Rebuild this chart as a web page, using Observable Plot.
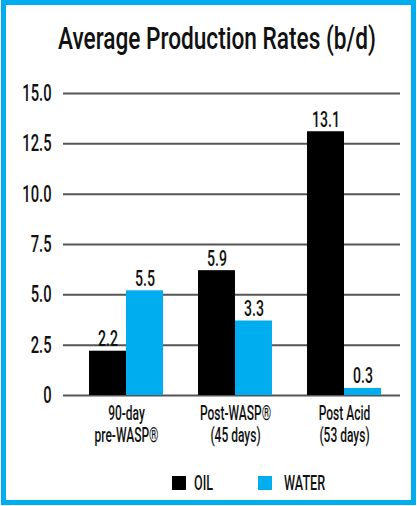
<!DOCTYPE html>
<html>
<head>
<meta charset="utf-8">
<script src="https://cdn.jsdelivr.net/npm/d3@7"></script>
<script src="https://cdn.jsdelivr.net/npm/@observablehq/plot@0.6"></script>
<style>
  html, body { margin: 0; padding: 0; background: #fff; }
  #frame {
    position: absolute; left: 1px; top: 0; width: 415px; height: 505px;
    box-sizing: border-box; border: 5px solid #00AEEF; background: #fff;
    font-family: Roboto, "DejaVu Sans", sans-serif; color: #111; font-weight: 500;
  }
  #title {
    height: 55px; box-sizing: border-box; padding-top: 18px; padding-left: 52px;
    font-size: 31px; line-height: 31px; white-space: nowrap;
  }
  #title span { display: inline-block; transform: scaleX(0.73); transform-origin: 0 50%; }
  #chart svg { display: block; font-weight: 500; }
  #legend {
    display: flex; align-items: center; padding-top: 17px; padding-left: 166px;
    font-size: 21px; line-height: 21px;
  }
  .item { display: flex; align-items: center; white-space: nowrap; }
  .item span { display: inline-block; transform: scaleX(0.6); transform-origin: 0 50%; position: relative; top: 1px; }
  .sw { width: 14px; height: 14px; flex: none; }
</style>
</head>
<body>
<div id="frame">
  <div id="title"><span>Average Production Rates (b/d)</span></div>
  <div id="chart"></div>
  <div id="legend"></div>
</div>
<script>
// ---- data ----
const groups = ["90-day pre-WASP®", "Post-WASP® (45 days)", "Post Acid (53 days)"];
const groupLabels = ["90-day\npre-WASP®", "Post-WASP®\n(45 days)", "Post Acid\n(53 days)"];
const seriesNames = ["OIL", "WATER"];
const seriesColors = ["#000000", "#00AEEF"];
// bar heights as drawn in the picture
const oilValues = [2.2, 6.2, 13.1];
const waterValues = [5.2, 3.7, 0.35];
// value labels as printed above the bars
const oilLabels = ["2.2", "5.9", "13.1"];
const waterLabels = ["5.5", "3.3", "0.3"];
const yTicks = [0, 2.5, 5, 7.5, 10, 12.5, 15];
const yTickLabels = ["0", "2.5", "5.0", "7.5", "10.0", "12.5", "15.0"];

const oil = groups.map((g, i) => ({group: g, value: oilValues[i], label: oilLabels[i]}));
const water = groups.map((g, i) => ({group: g, value: waterValues[i], label: waterLabels[i]}));

const FONT = 'Roboto, "DejaVu Sans", sans-serif';
const half = 37; // half of the group band width, px

const chart = Plot.plot({
  width: 405,
  height: 395,
  marginTop: 33,
  marginBottom: 60,
  marginLeft: 57,
  marginRight: 11,
  style: {fontFamily: FONT, color: "#111", background: "transparent", overflow: "visible"},
  x: {domain: groups, paddingInner: 0.3211, paddingOuter: 0.2064, align: 0.571, label: null},
  y: {domain: [0, 15], label: null},
  marks: [
    Plot.ruleY(yTicks, {stroke: "#555", strokeWidth: 2}),
    Plot.barY(oil, {x: "group", y: "value", fill: seriesColors[0], insetRight: half}),
    Plot.barY(water, {x: "group", y: "value", fill: seriesColors[1], insetLeft: half}),
    Plot.text(oil, {x: "group", y: "value", text: "label", dx: -half / 2, dy: -5,
      lineAnchor: "bottom", fontSize: 22, fill: "#111"}),
    Plot.text(water, {x: "group", y: "value", text: "label", dx: half / 2, dy: -5,
      lineAnchor: "bottom", fontSize: 22, fill: "#111"}),
    Plot.axisY(yTicks, {tickSize: 0, tickPadding: 12, fontSize: 23, textAnchor: "end",
      tickFormat: d => yTickLabels[yTicks.indexOf(d)], label: null}),
    Plot.axisX({tickSize: 0, tickPadding: 9, fontSize: 20, lineHeight: 1.1,
      tickFormat: d => groupLabels[groups.indexOf(d)], label: null})
  ]
});
document.getElementById("chart").appendChild(chart);

// condense each text horizontally around its own anchor point
function condense(root, selector, s) {
  root.querySelectorAll(selector).forEach(t => {
    const g = document.createElementNS("http://www.w3.org/2000/svg", "g");
    t.parentNode.insertBefore(g, t);
    g.appendChild(t);
    const b = g.getBBox();
    const anchor = getComputedStyle(t).textAnchor;
    const px = anchor === "end" ? b.x + b.width : anchor === "start" ? b.x : b.x + b.width / 2;
    g.setAttribute("transform", `translate(${px},0) scale(${s},1) translate(${-px},0)`);
  });
}
condense(chart, 'g[aria-label="y-axis tick label"] text', 0.64);
condense(chart, 'g[aria-label="x-axis tick label"] text', 0.6);
condense(chart, 'g[aria-label="text"] text', 0.64);

const legend = document.getElementById("legend");
const itemWidths = [86, null];
const swatchGaps = [8, 12];
seriesNames.forEach((name, i) => {
  const item = document.createElement("div");
  item.className = "item";
  if (itemWidths[i]) item.style.width = itemWidths[i] + "px";
  const sw = document.createElement("div");
  sw.className = "sw";
  sw.style.background = seriesColors[i];
  sw.style.marginRight = swatchGaps[i] + "px";
  const t = document.createElement("span");
  t.textContent = name;
  item.appendChild(sw);
  item.appendChild(t);
  legend.appendChild(item);
});
</script>
</body>
</html>
